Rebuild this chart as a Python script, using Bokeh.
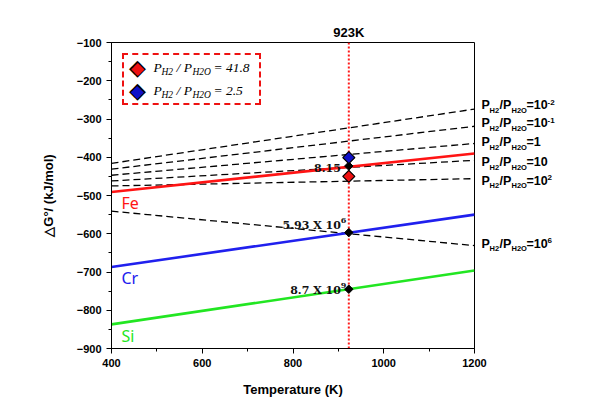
import numpy as np
from bokeh.plotting import figure
from bokeh.models import (Range1d, Span, Label, Legend, LegendItem, SingleIntervalTicker,
                          LinearAxis, FixedTicker)
from bokeh.core.properties import value
from bokeh.embed import file_html
from bokeh.resources import INLINE

# ---------------- data ----------------
temps = [400, 1200]
oxide_names = ["Fe", "Cr", "Si"]
oxide_G_400 = [-491, -687, -837]
oxide_G_1200 = [-390, -550, -696]
oxide_colors = ["#ff1414", "#2020ee", "#22e622"]

ratio_mant = ["10", "10", "1", "10", "10", "10"]
ratio_exp = ["-2", "-1", "", "", "2", "6"]
ratio_G_400 = [-416, -431, -447, -462, -475, -541]
ratio_G_1200 = [-274, -319, -364, -408, -456, -631]

T_sel = 923
eq_G = [-423, -597, -745]
eq_text = ["8.15", "5.93 X 10", "8.7 X 10"]
eq_exp = ["", "6", "9"]

meas_ratio = ["41.8", "2.5"]
meas_G = [-450, -401]
meas_colors = ["#ee1111", "#1010c8"]

# ---------------- styles ----------------
ratio_dy = [4, 3, 1, -2, -2, 2]
eq_dy = [-2, 7, -1]
name_dy = [-11, -11, -12]
FRAME_W, FRAME_H = 363, 306

SANS = "Liberation Sans"

p = figure(frame_width=FRAME_W, frame_height=FRAME_H,
           min_border_left=111, min_border_right=138, min_border_top=42, min_border_bottom=50,
           x_range=Range1d(400, 1200), y_range=Range1d(-900, -100),
           output_backend="svg", toolbar_location=None)
p.background_fill_color = "white"
p.border_fill_color = "white"
p.xgrid.visible = False
p.ygrid.visible = False
p.outline_line_color = "black"
p.outline_line_width = 1
p.outline_line_alpha = 1

p.xaxis.ticker = SingleIntervalTicker(interval=200, num_minor_ticks=2)
p.yaxis.ticker = SingleIntervalTicker(interval=100, num_minor_ticks=2)
p.xaxis.axis_label = "Temperature (K)"
p.yaxis.axis_label = "\u25b3G\u00b0/ (kJ/mol)"
for ax in (p.xaxis[0], p.yaxis[0]):
    ax.major_tick_out = 5
    ax.major_tick_in = 0
    ax.minor_tick_out = 3
    ax.minor_tick_in = 0
    ax.axis_line_color = "black"
    ax.major_tick_line_color = "black"
    ax.minor_tick_line_color = "black"
    ax.major_label_text_font = SANS
    ax.major_label_text_font_style = "bold"
    ax.major_label_text_font_size = "11px"
    ax.major_label_text_color = "black"
    ax.major_label_standoff = 5
    ax.axis_label_text_font = SANS
    ax.axis_label_text_font_style = "bold"
    ax.axis_label_text_font_size = "13px"
    ax.axis_label_text_color = "black"
p.xaxis.axis_label_standoff = 12
p.yaxis.axis_label_standoff = 18

X0 = p.x_range.start
Y0 = p.y_range.start
Y1 = p.y_range.end
YMID = (Y0 + Y1) / 2
DPX = (Y1 - Y0) / FRAME_H  # data units per pixel (vertical)


def text_axis(ticks, labels, size, standoff=0, style="bold", font=SANS, side="right"):
    ax = LinearAxis(ticker=FixedTicker(ticks=ticks, minor_ticks=[]),
                    major_label_overrides=dict(zip(ticks, labels)))
    ax.axis_line_color = None
    ax.major_tick_line_color = None
    ax.minor_tick_line_color = None
    ax.major_tick_out = 0
    ax.major_tick_in = 0
    ax.minor_tick_out = 0
    ax.minor_tick_in = 0
    ax.major_label_standoff = standoff
    ax.major_label_text_font = font
    ax.major_label_text_font_style = style
    ax.major_label_text_font_size = size
    ax.major_label_text_color = "black"
    p.add_layout(ax, side)
    return ax


# vertical 923 K line
span = Span(location=T_sel, dimension="height", line_color="#ff1a1a",
            line_dash="2 2", line_width=2, level="underlay")
p.add_layout(span)

# H2/H2O dashed lines
for g0, g1 in zip(ratio_G_400, ratio_G_1200):
    p.line(temps, [g0, g1], line_color="black", line_width=1.3, line_dash="7 4")

# oxide lines
for g0, g1, c in zip(oxide_G_400, oxide_G_1200, oxide_colors):
    p.line(temps, [g0, g1], line_color=c, line_width=2.6)

# equilibrium points
p.scatter([T_sel] * len(eq_G), eq_G, marker="square", angle=np.pi / 4, size=6,
          fill_color="black", line_color="black")

# measured ratios
legend_r = []
for g, c in zip(meas_G, meas_colors):
    p.scatter([T_sel], [g], marker="square", angle=np.pi / 4, size=8.5,
              fill_color=c, line_color="black", line_width=1.3)
    # transparent twin: only used to lay out the legend rows
    legend_r.append(p.scatter([T_sel], [g], marker="square", size=1,
                              fill_alpha=0, line_alpha=0))

legend = Legend(items=[LegendItem(label=value(" "), renderers=[r]) for r in legend_r],
                location="top_left", margin=11, padding=3, spacing=0,
                glyph_width=23, glyph_height=21, label_height=20, label_width=101,
                label_standoff=5, border_line_color="#ee1111", border_line_dash="4 2",
                border_line_width=2, border_line_alpha=1,
                background_fill_color="white", background_fill_alpha=0)
p.add_layout(legend)

# legend symbols and texts, anchored inside the frame (left edge, mid height)
LX = 42
LY0 = round(FRAME_H / 2 - 25)   # offset from the mid-height anchor up to the first row
LDY = -23
tws = {"P": .611, "H": .722, "2": .5, "O": .722, " ": .25, "/": .278, "=": .675, ".": .25}
MAIN, SUB = 13.5, 9.5
for k, (rv, c) in enumerate(zip(meas_ratio, meas_colors)):
    y = LY0 + k * LDY
    for fs, col in (("22px", "black"), ("17px", c)):
        p.add_layout(Label(x=X0, y=YMID, x_offset=26, y_offset=y, text="\u25c6",
                           text_font="DejaVu Sans", text_font_size=fs, text_color=col,
                           text_baseline="middle", text_align="center"))
    # (text, font size, vertical shift, gap before)
    pieces = [("P", MAIN, 0, 0), ("H2", SUB, -4, 0), ("/ P", MAIN, 0, .25 * MAIN),
              ("H2O", SUB, -4, 0), ("= " + rv, MAIN, 0, .25 * MAIN)]
    x = LX
    for txt, fs, dy, gap in pieces:
        x += gap
        p.add_layout(Label(x=X0, y=YMID, x_offset=round(x), y_offset=y + dy, text=txt,
                           text_font="Liberation Serif", text_font_style="italic",
                           text_font_size=f"{fs}px", text_color="black",
                           text_baseline="middle", text_align="left"))
        x += sum(tws.get(c2, .5) for c2 in txt) * fs

# right-hand ratio labels: one text column per axis, stacked outward
cols = [
    (["P"] * len(ratio_mant), "12.5px", 0),
    (["H2"] * len(ratio_mant), "7.5px", -5),
    (["/P"] * len(ratio_mant), "12.5px", 0),
    (["H2O"] * len(ratio_mant), "7.5px", -5),
    (["=" + m for m in ratio_mant], "12.5px", 0),
    (ratio_exp, "8px", 3),
]
for ci, (texts, size, shift) in enumerate(cols):
    ticks, labels = [], []
    for t, g, dy in zip(texts, ratio_G_1200, ratio_dy):
        if t:
            ticks.append(round(g + (dy + shift) * DPX, 3))
            labels.append(t)
    text_axis(ticks, labels, size, standoff=7 if ci == 0 else -3)

# 923K label above the frame
text_axis([T_sel], [f"{T_sel}K"], "13px", standoff=3, side="above")

# oxide names
for name, g, c, dy in zip(oxide_names, oxide_G_400, oxide_colors, name_dy):
    p.add_layout(Label(x=X0, y=g, x_offset=10, y_offset=dy, text=name,
                       text_font="Noto Sans", text_font_size="16px", text_color=c,
                       text_baseline="middle", text_align="left"))

# equilibrium ratio annotations
for txt, ex, g, dy in zip(eq_text, eq_exp, eq_G, eq_dy):
    p.add_layout(Label(x=T_sel, y=g, x_offset=-8, y_offset=dy, text=txt,
                       text_font="DejaVu Serif", text_font_style="bold", text_font_size="11px",
                       text_color="#111111", text_baseline="middle", text_align="right"))
    if ex:
        p.add_layout(Label(x=T_sel, y=g, x_offset=-8, y_offset=dy + 5, text=ex,
                           text_font="DejaVu Serif", text_font_style="bold",
                           text_font_size="8px", text_color="#111111",
                           text_baseline="middle", text_align="left"))

open("out.html", "w").write(file_html(p, INLINE))
